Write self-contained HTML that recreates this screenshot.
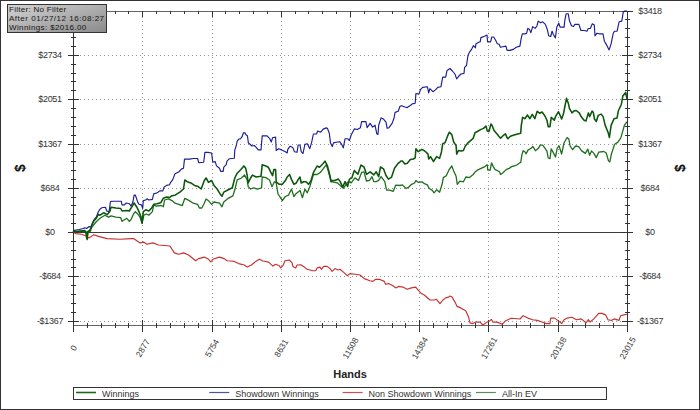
<!DOCTYPE html>
<html><head><meta charset="utf-8"><style>
html,body{margin:0;padding:0;background:#fff;}
body{width:700px;height:410px;overflow:hidden;position:relative;}
svg{position:absolute;left:0;top:0;display:block;}
text{font-family:"Liberation Sans",sans-serif;fill:#333;}
.yl{font-size:9px;letter-spacing:-0.3px;text-anchor:middle;}
.xl{font-size:8.5px;text-anchor:middle;}
.dl{font-size:14px;font-weight:bold;text-anchor:middle;fill:#111;}
.hl{font-size:11px;font-weight:bold;text-anchor:middle;fill:#222;}
.lg{font-size:9px;}
.fb{font-size:8px;letter-spacing:0.55px;fill:#151515;}
</style></head><body>
<svg width="700" height="410" viewBox="0 0 700 410">
<rect x="0" y="0" width="700" height="410" fill="#fff"/>
<rect x="0.5" y="0.5" width="699" height="409" fill="none" stroke="#333" stroke-width="1"/>
<path d="M76 55.5H627 M76 99.5H627 M76 144.5H627 M76 188.5H627 M76 276.5H627 M76 321.5H627" stroke="#959595" stroke-width="1" stroke-dasharray="1 3" fill="none"/>
<path d="M142.5 13V325 M212.5 13V325 M281.5 13V325 M350.5 13V325 M419.5 13V325 M488.5 13V325 M558.5 13V325" stroke="#959595" stroke-width="1" stroke-dasharray="1 3" fill="none"/>
<path d="M73 232.5H628" stroke="#3a3a3a" stroke-width="1"/>
<path d="M73 11.5H633 M73 325.5H628" stroke="#666" stroke-width="1.2" fill="none"/>
<path d="M73.5 11V331 M627.5 11V331 M68 11.5H79 M622 11.5H633 M71 19.5H76 M625 19.5H630 M71 28.5H76 M625 28.5H630 M71 37.5H76 M625 37.5H630 M71 46.5H76 M625 46.5H630 M68 55.5H79 M622 55.5H633 M71 64.5H76 M625 64.5H630 M71 73.5H76 M625 73.5H630 M71 81.5H76 M625 81.5H630 M71 90.5H76 M625 90.5H630 M68 99.5H79 M622 99.5H633 M71 108.5H76 M625 108.5H630 M71 117.5H76 M625 117.5H630 M71 126.5H76 M625 126.5H630 M71 135.5H76 M625 135.5H630 M68 144.5H79 M622 144.5H633 M71 152.5H76 M625 152.5H630 M71 161.5H76 M625 161.5H630 M71 170.5H76 M625 170.5H630 M71 179.5H76 M625 179.5H630 M68 188.5H79 M622 188.5H633 M71 197.5H76 M625 197.5H630 M71 205.5H76 M625 205.5H630 M71 214.5H76 M625 214.5H630 M71 223.5H76 M625 223.5H630 M68 232.5H79 M622 232.5H633 M71 241.5H76 M625 241.5H630 M71 250.5H76 M625 250.5H630 M71 259.5H76 M625 259.5H630 M71 267.5H76 M625 267.5H630 M68 276.5H79 M622 276.5H633 M71 285.5H76 M625 285.5H630 M71 294.5H76 M625 294.5H630 M71 303.5H76 M625 303.5H630 M71 312.5H76 M625 312.5H630 M68 321.5H79 M622 321.5H633 M73.5 320V332 M73.5 11V17 M87.5 323V328 M87.5 11V14 M101.5 323V328 M101.5 11V14 M115.5 323V328 M115.5 11V14 M128.5 323V328 M128.5 11V14 M142.5 320V332 M142.5 11V17 M156.5 323V328 M156.5 11V14 M170.5 323V328 M170.5 11V14 M184.5 323V328 M184.5 11V14 M198.5 323V328 M198.5 11V14 M212.5 320V332 M212.5 11V17 M225.5 323V328 M225.5 11V14 M239.5 323V328 M239.5 11V14 M253.5 323V328 M253.5 11V14 M267.5 323V328 M267.5 11V14 M281.5 320V332 M281.5 11V17 M295.5 323V328 M295.5 11V14 M308.5 323V328 M308.5 11V14 M322.5 323V328 M322.5 11V14 M336.5 323V328 M336.5 11V14 M350.5 320V332 M350.5 11V17 M364.5 323V328 M364.5 11V14 M378.5 323V328 M378.5 11V14 M392.5 323V328 M392.5 11V14 M405.5 323V328 M405.5 11V14 M419.5 320V332 M419.5 11V17 M433.5 323V328 M433.5 11V14 M447.5 323V328 M447.5 11V14 M461.5 323V328 M461.5 11V14 M475.5 323V328 M475.5 11V14 M488.5 320V332 M488.5 11V17 M502.5 323V328 M502.5 11V14 M516.5 323V328 M516.5 11V14 M530.5 323V328 M530.5 11V14 M544.5 323V328 M544.5 11V14 M558.5 320V332 M558.5 11V17 M572.5 323V328 M572.5 11V14 M585.5 323V328 M585.5 11V14 M599.5 323V328 M599.5 11V14 M613.5 323V328 M613.5 11V14 M627.5 320V332 M627.5 11V17" stroke="#333" stroke-width="1" fill="none"/>
<path d="M73.0 232.0 L75.7 233.6 L81.4 234.3 L85.7 235.7 L88.6 237.9 L91.4 236.4 L93.6 234.7 L98.6 236.4 L107.0 238.6 L120.0 239.3 L131.4 238.6 L133.6 238.6 L140.0 242.9 L143.6 242.1 L147.0 244.3 L152.9 242.9 L158.6 245.0 L170.0 246.0 L174.3 252.9 L178.6 254.3 L183.6 252.9 L188.6 255.0 L195.7 260.7 L198.6 258.6 L204.3 257.1 L208.6 259.3 L210.7 262.0 L212.9 259.3 L219.3 257.1 L224.3 258.6 L227.0 260.7 L230.0 261.0 L234.3 261.4 L238.6 263.6 L244.3 265.0 L247.1 267.1 L251.4 265.0 L255.7 261.4 L259.3 259.3 L262.9 261.0 L268.6 262.1 L272.9 266.1 L275.7 264.3 L279.3 265.7 L280.7 267.9 L282.9 265.7 L285.0 260.7 L289.3 260.0 L292.1 262.9 L292.9 266.4 L295.7 267.9 L297.1 265.0 L300.7 264.7 L304.3 267.1 L307.1 269.3 L312.9 270.7 L315.7 270.7 L317.1 267.9 L320.0 267.1 L321.4 269.3 L323.6 266.4 L327.1 266.4 L330.0 268.5 L332.1 271.4 L335.0 268.6 L337.9 270.0 L340.0 269.3 L344.3 272.9 L347.1 275.7 L350.0 273.6 L355.0 274.3 L360.0 275.0 L364.3 278.6 L370.0 280.7 L372.9 281.4 L375.7 279.3 L379.3 279.3 L384.3 281.4 L385.7 284.3 L388.6 283.6 L392.9 285.7 L395.7 287.9 L398.6 286.4 L402.9 287.1 L407.1 289.3 L411.4 287.9 L415.7 287.1 L418.6 290.7 L421.4 293.6 L424.3 295.0 L430.0 300.0 L434.3 300.0 L436.4 299.3 L440.0 303.6 L442.9 300.0 L445.7 297.9 L448.6 297.1 L450.0 296.0 L452.1 297.1 L455.0 302.1 L457.1 306.4 L460.7 307.9 L462.9 309.3 L465.7 310.7 L468.6 317.1 L470.0 322.9 L472.9 323.6 L475.7 322.1 L480.0 322.1 L482.9 325.0 L487.1 322.1 L490.0 320.7 L491.4 319.3 L492.9 322.1 L497.1 322.1 L502.1 324.3 L505.7 320.7 L511.4 318.3 L520.0 319.0 L523.1 315.7 L527.9 318.1 L532.6 319.7 L537.3 320.4 L542.0 322.0 L546.7 323.6 L549.9 323.6 L550.7 318.1 L554.6 318.1 L557.7 320.4 L561.7 323.6 L564.0 319.7 L567.2 318.1 L571.9 317.3 L576.6 319.7 L581.3 318.9 L586.0 322.8 L588.4 319.7 L590.0 322.0 L593.9 318.9 L598.6 313.4 L601.8 313.4 L605.7 314.9 L608.0 319.7 L611.2 320.4 L614.3 318.9 L619.0 320.4 L620.6 315.7 L623.8 314.9 L626.9 314.2" stroke="#c83030" stroke-width="1.15" fill="none" stroke-linejoin="round"/>
<path d="M73.0 232.0 L84.0 231.0 L86.6 234.0 L87.2 238.0 L88.0 232.0 L92.0 227.0 L96.0 222.0 L100.0 218.3 L104.9 215.2 L108.5 217.1 L111.0 215.9 L115.9 217.1 L120.7 217.7 L122.0 221.3 L126.8 218.3 L129.3 221.3 L131.1 219.5 L133.5 214.0 L135.4 211.6 L137.8 214.0 L140.2 217.7 L142.1 223.2 L143.9 215.2 L146.3 214.0 L148.8 215.2 L152.4 211.6 L153.7 204.9 L156.1 206.1 L161.0 205.5 L163.4 206.7 L164.6 200.0 L168.3 198.8 L172.0 200.6 L175.0 203.2 L178.7 204.4 L182.3 205.6 L184.8 198.3 L188.4 200.1 L193.3 203.2 L197.6 204.4 L199.4 208.0 L201.8 208.0 L204.3 203.2 L206.1 198.9 L208.5 200.7 L211.6 204.4 L214.0 202.0 L217.1 202.6 L219.5 203.2 L222.0 206.8 L223.8 202.0 L227.4 198.9 L230.5 197.1 L232.9 195.9 L234.8 189.8 L237.2 179.9 L241.5 178.0 L244.5 175.0 L247.0 179.3 L248.2 186.6 L250.6 189.0 L253.7 187.9 L257.3 189.1 L261.6 187.9 L262.2 177.0 L265.9 177.6 L269.5 180.0 L272.0 186.7 L274.4 181.8 L276.2 183.0 L278.0 194.0 L280.5 197.7 L282.3 200.7 L285.4 196.5 L288.4 195.2 L291.5 189.1 L293.9 196.5 L296.3 193.4 L300.0 190.4 L302.4 197.7 L304.9 189.1 L307.3 192.8 L309.8 186.7 L313.4 174.5 L317.1 174.5 L320.7 172.1 L324.4 167.2 L326.2 164.8 L328.0 170.0 L331.1 181.6 L337.2 182.8 L343.3 188.3 L348.2 181.6 L351.2 182.8 L354.9 177.9 L358.5 180.4 L361.6 172.4 L364.0 171.8 L366.5 181.0 L369.5 180.4 L372.0 176.7 L373.8 181.6 L376.2 181.6 L378.7 180.4 L381.1 176.7 L384.8 181.6 L386.6 190.1 L389.6 190.1 L393.3 191.3 L395.7 185.2 L400.0 185.5 L402.4 184.9 L406.1 188.5 L408.5 187.3 L411.6 184.3 L414.6 183.0 L415.9 180.6 L418.3 182.4 L422.0 181.8 L424.4 183.7 L427.4 184.9 L429.3 188.5 L432.3 190.4 L434.1 192.8 L436.6 189.8 L439.6 192.2 L442.1 184.3 L443.3 177.6 L446.3 175.7 L448.8 170.2 L451.8 166.0 L453.7 170.9 L456.1 176.3 L457.3 184.3 L459.8 181.2 L463.4 181.8 L465.9 177.0 L469.5 177.6 L473.2 174.5 L475.0 172.1 L477.4 170.2 L481.1 168.4 L484.8 166.6 L487.2 164.8 L487.8 170.2 L490.2 170.2 L491.5 162.9 L493.3 166.6 L495.1 169.6 L499.4 171.5 L500.6 174.5 L503.0 172.7 L506.1 169.6 L509.1 168.4 L511.6 166.6 L514.0 166.0 L517.1 164.8 L520.7 162.3 L522.0 154.4 L523.2 150.7 L525.0 152.0 L526.2 153.8 L528.0 150.1 L531.1 148.3 L532.9 146.5 L535.4 150.7 L538.4 148.3 L540.2 145.2 L542.7 145.2 L545.1 148.3 L547.0 151.3 L548.2 158.0 L550.0 158.7 L551.2 148.9 L553.7 153.4 L555.5 157.0 L557.3 147.9 L559.1 146.0 L561.6 154.0 L564.0 143.0 L567.1 137.5 L568.9 139.3 L570.1 146.0 L572.6 149.7 L575.6 146.0 L578.7 146.7 L581.7 150.9 L585.4 153.4 L587.8 149.1 L589.6 155.2 L591.5 150.9 L593.9 153.4 L596.3 157.6 L598.8 152.1 L603.7 151.5 L606.1 152.8 L608.5 160.7 L609.8 161.9 L611.6 153.4 L614.6 144.2 L617.7 142.4 L620.7 138.1 L623.2 129.6 L624.4 125.3 L627.0 121.7" stroke="#1f6f1f" stroke-width="1.3" fill="none" stroke-linejoin="round"/>
<path d="M73.0 232.0 L74.4 230.4 L79.3 229.5 L83.0 228.5 L84.8 227.7 L86.6 228.5 L89.1 226.5 L90.3 227.3 L91.5 225.5 L93.3 221.2 L94.6 218.8 L96.4 217.0 L98.2 212.0 L100.0 209.1 L101.8 207.7 L105.5 207.3 L106.7 211.0 L109.1 211.6 L110.4 201.8 L111.6 201.2 L121.3 201.2 L122.0 204.9 L124.4 204.9 L126.2 203.0 L129.3 203.7 L131.1 206.1 L132.9 201.8 L134.1 195.1 L135.4 195.1 L136.6 198.8 L137.8 202.4 L139.0 204.3 L141.5 204.9 L142.7 208.5 L143.3 200.6 L145.7 200.0 L147.0 198.8 L148.8 200.0 L152.4 199.4 L153.7 193.9 L157.3 192.7 L159.8 190.9 L162.8 190.9 L164.0 187.2 L166.5 185.4 L169.5 184.8 L170.7 182.3 L172.6 179.9 L175.0 173.8 L178.7 172.0 L181.7 168.9 L183.5 168.3 L184.5 159.1 L189.6 159.1 L193.3 158.5 L197.6 158.5 L198.8 162.8 L203.7 162.2 L204.9 152.4 L207.9 152.4 L211.6 153.0 L212.8 162.2 L215.2 161.6 L216.5 165.9 L219.5 168.3 L220.7 171.3 L223.2 171.3 L223.8 167.1 L226.2 164.6 L227.0 161.1 L229.4 158.7 L234.3 158.2 L234.8 149.9 L236.2 146.0 L237.2 141.1 L238.7 139.1 L240.6 138.7 L242.1 136.7 L243.5 132.8 L245.0 132.8 L246.0 134.8 L247.4 135.7 L248.4 143.0 L250.4 144.5 L251.8 146.0 L254.3 145.5 L256.2 147.4 L258.2 149.9 L261.0 149.9 L262.2 135.9 L267.1 135.9 L269.5 138.3 L271.3 142.0 L272.6 137.7 L275.6 137.1 L276.2 150.5 L278.7 148.7 L281.7 149.9 L285.4 151.7 L287.2 152.9 L287.8 149.3 L290.2 146.2 L292.7 147.4 L294.5 151.7 L297.0 152.3 L298.2 145.0 L300.0 145.0 L301.2 151.7 L303.0 153.5 L304.9 144.4 L307.3 143.8 L309.8 148.7 L311.6 142.6 L313.4 134.0 L316.5 134.0 L317.7 131.0 L320.7 132.2 L323.2 129.1 L326.2 127.9 L327.4 128.3 L329.3 133.2 L330.5 142.9 L332.3 146.6 L333.5 142.9 L336.0 142.3 L339.6 141.7 L341.5 144.1 L343.3 147.8 L345.1 138.7 L347.6 138.7 L349.4 140.5 L351.2 135.0 L354.3 128.9 L357.3 129.5 L360.4 127.7 L361.6 121.6 L365.9 121.6 L367.1 127.7 L370.1 123.4 L372.6 127.1 L375.0 125.2 L376.8 133.8 L378.0 134.4 L378.7 125.2 L381.1 117.9 L383.5 119.1 L386.0 122.2 L387.2 128.3 L389.0 127.7 L392.1 123.4 L393.9 118.5 L395.1 112.4 L398.2 111.2 L400.0 106.3 L401.8 105.7 L404.9 107.0 L407.3 107.6 L411.0 105.1 L412.2 103.9 L415.2 103.3 L415.9 93.5 L418.9 94.1 L420.7 89.3 L422.6 87.4 L427.4 86.8 L428.7 92.9 L429.9 88.7 L432.9 91.7 L435.4 89.9 L437.8 87.4 L440.9 86.8 L442.7 77.1 L445.7 77.1 L447.0 70.4 L450.0 68.5 L452.4 71.0 L454.9 74.0 L456.7 78.9 L458.5 76.5 L461.0 74.0 L464.0 73.4 L464.6 67.3 L466.5 65.5 L468.0 55.2 L469.9 51.6 L471.7 49.1 L473.5 45.5 L475.4 47.9 L476.0 43.7 L478.4 42.4 L480.2 41.8 L480.9 37.6 L484.5 36.3 L487.0 35.1 L487.6 41.8 L490.6 41.8 L491.8 37.0 L493.7 37.0 L495.5 40.0 L497.3 43.7 L499.1 44.3 L500.4 47.3 L502.8 46.7 L505.9 46.1 L507.1 50.4 L510.1 50.4 L513.8 49.1 L516.2 47.3 L519.9 46.1 L521.1 38.8 L522.3 33.9 L524.8 33.9 L526.6 33.3 L527.8 28.4 L529.6 29.6 L530.9 32.7 L532.7 26.6 L535.1 28.4 L536.9 26.0 L538.2 21.1 L540.6 22.8 L542.7 21.8 L545.4 24.4 L547.4 29.8 L548.7 35.8 L550.7 36.5 L552.1 31.2 L553.4 34.5 L555.4 37.9 L556.8 27.1 L558.8 23.1 L560.1 27.1 L564.1 27.1 L564.8 20.4 L566.2 13.7 L568.2 13.7 L569.5 21.1 L571.5 25.8 L573.5 26.5 L574.9 24.4 L578.9 24.4 L580.9 30.5 L584.3 30.5 L586.9 31.2 L588.3 28.5 L590.3 28.5 L592.3 23.8 L594.3 25.1 L595.0 35.8 L597.0 33.2 L599.0 33.8 L603.0 33.8 L604.4 41.2 L606.4 44.6 L609.1 49.9 L611.1 43.9 L613.1 33.8 L614.4 31.2 L617.1 31.2 L619.1 21.8 L621.8 21.1 L623.2 12.4 L624.5 11.0 L627.0 11.0" stroke="#1c1c98" stroke-width="1.15" fill="none" stroke-linejoin="round"/>
<path d="M73.0 232.0 L84.2 230.4 L86.0 231.6 L86.6 237.7 L87.2 239.5 L87.8 231.6 L90.3 231.0 L92.1 224.3 L94.0 220.6 L96.4 218.2 L98.2 214.5 L100.0 215.2 L103.7 212.8 L107.3 214.6 L109.8 211.6 L111.0 207.3 L115.9 208.0 L120.7 208.5 L122.0 211.0 L126.8 210.4 L129.3 211.0 L132.3 206.1 L134.1 203.0 L136.6 206.7 L139.0 211.6 L140.9 216.5 L142.1 223.2 L143.3 211.6 L145.7 209.8 L148.8 211.0 L151.8 207.9 L153.7 204.3 L157.3 203.7 L161.0 202.4 L163.4 198.2 L166.5 197.0 L169.5 197.6 L172.0 195.7 L175.0 195.2 L179.9 192.1 L183.5 189.0 L184.8 180.0 L187.2 181.7 L190.9 182.9 L194.5 185.4 L198.2 186.6 L201.2 189.0 L204.3 180.5 L206.1 178.0 L208.5 182.3 L211.6 180.5 L214.0 185.4 L217.1 189.0 L220.1 193.9 L222.0 196.3 L223.8 192.1 L227.4 190.2 L232.3 187.8 L234.8 178.0 L237.2 173.2 L240.9 169.5 L243.9 165.9 L245.7 168.3 L247.0 174.4 L248.2 182.9 L250.6 178.0 L252.4 175.1 L256.1 177.0 L261.0 176.3 L262.2 164.8 L265.9 166.0 L268.3 167.2 L270.7 172.1 L272.6 175.7 L273.8 169.6 L275.6 169.6 L276.2 181.8 L279.3 184.3 L282.3 184.3 L285.4 180.6 L287.2 177.0 L289.6 174.5 L291.5 179.4 L293.9 184.3 L296.3 183.0 L298.2 179.4 L300.0 177.0 L301.2 183.0 L303.7 181.8 L306.1 181.8 L308.5 184.3 L311.0 180.6 L313.4 172.7 L317.1 166.0 L319.5 167.2 L323.2 163.5 L325.0 161.1 L327.4 165.7 L329.9 175.5 L331.1 181.6 L332.3 180.4 L334.8 180.4 L338.4 179.1 L340.2 181.6 L342.7 187.1 L345.1 181.6 L347.6 186.5 L349.4 179.1 L351.8 177.9 L354.3 170.6 L357.9 174.3 L361.0 165.1 L364.0 167.0 L366.5 174.3 L370.1 171.8 L373.8 174.9 L376.2 171.8 L378.7 176.7 L380.5 167.0 L383.5 168.8 L386.0 175.5 L388.4 179.1 L391.5 177.3 L394.5 168.2 L398.2 163.3 L401.2 160.9 L402.4 160.9 L404.9 163.9 L407.3 163.3 L410.4 159.6 L413.4 159.0 L415.2 157.8 L415.9 148.7 L418.3 151.7 L422.0 149.3 L425.6 151.7 L428.0 154.1 L428.7 159.0 L430.5 156.6 L433.5 161.5 L436.6 156.6 L439.6 158.4 L441.5 151.7 L442.7 143.8 L445.1 142.6 L447.6 135.9 L449.4 132.2 L451.8 134.6 L453.7 142.0 L456.1 145.6 L456.7 154.1 L458.5 150.5 L461.0 151.1 L463.4 150.5 L465.2 146.2 L468.3 142.6 L473.2 138.3 L475.0 132.7 L477.4 131.5 L480.5 129.6 L483.5 128.4 L486.0 126.0 L487.2 130.9 L489.0 131.5 L490.9 124.1 L492.1 125.4 L493.9 130.2 L497.0 133.9 L498.8 136.3 L500.6 138.2 L503.0 135.7 L505.5 133.9 L506.7 137.0 L507.9 138.8 L510.4 136.3 L514.0 135.1 L517.7 133.9 L520.7 133.3 L521.3 125.4 L522.6 117.4 L525.0 118.7 L527.4 115.0 L529.9 118.7 L532.3 114.4 L534.8 118.7 L537.2 111.3 L539.6 113.2 L542.1 112.0 L545.1 116.2 L547.0 120.5 L548.2 126.6 L550.0 126.6 L551.2 117.4 L554.3 120.2 L555.5 116.6 L558.5 111.7 L560.4 116.0 L561.6 119.0 L563.4 114.1 L564.6 108.0 L566.5 98.3 L568.3 103.2 L569.5 108.7 L572.0 112.9 L573.8 111.1 L576.2 110.5 L579.3 112.9 L581.1 116.6 L584.1 120.2 L586.0 120.9 L588.4 112.9 L589.6 116.6 L592.1 111.1 L593.3 112.3 L594.5 119.0 L596.3 121.5 L598.2 115.4 L601.2 114.1 L603.1 116.6 L605.2 125.4 L608.2 132.7 L609.4 137.5 L611.1 125.4 L614.0 118.8 L617.0 118.1 L618.4 110.7 L621.4 104.2 L622.8 96.1 L625.7 92.4 L627.0 99.0" stroke="#0a560a" stroke-width="1.55" fill="none" stroke-linejoin="round"/>
<text x="50" y="14" class="yl">$3418</text>
<text x="650" y="14" class="yl">$3418</text>
<text x="50" y="58" class="yl">$2734</text>
<text x="650" y="58" class="yl">$2734</text>
<text x="50" y="102" class="yl">$2051</text>
<text x="650" y="102" class="yl">$2051</text>
<text x="50" y="147" class="yl">$1367</text>
<text x="650" y="147" class="yl">$1367</text>
<text x="50" y="191" class="yl">$684</text>
<text x="650" y="191" class="yl">$684</text>
<text x="50" y="235" class="yl">$0</text>
<text x="650" y="235" class="yl">$0</text>
<text x="50" y="279" class="yl">-$684</text>
<text x="650" y="279" class="yl">-$684</text>
<text x="50" y="324" class="yl">-$1367</text>
<text x="650" y="324" class="yl">-$1367</text>
<text class="xl" transform="translate(73.5 348) rotate(-60)" x="0" y="3">0</text>
<text class="xl" transform="translate(142.75 348) rotate(-60)" x="0" y="3">2877</text>
<text class="xl" transform="translate(212.0 348) rotate(-60)" x="0" y="3">5754</text>
<text class="xl" transform="translate(281.25 348) rotate(-60)" x="0" y="3">8631</text>
<text class="xl" transform="translate(350.5 348) rotate(-60)" x="0" y="3">11508</text>
<text class="xl" transform="translate(419.75 348) rotate(-60)" x="0" y="3">14384</text>
<text class="xl" transform="translate(489.0 348) rotate(-60)" x="0" y="3">17261</text>
<text class="xl" transform="translate(558.25 348) rotate(-60)" x="0" y="3">20138</text>
<text class="xl" transform="translate(627.5 348) rotate(-60)" x="0" y="3">23015</text>
<text class="dl" transform="translate(20 168) rotate(-90)" x="0" y="4.5">$</text>
<text class="dl" transform="translate(680 168) rotate(-90)" x="0" y="4.5">$</text>
<text x="350" y="378" class="hl">Hands</text>
<rect x="73.5" y="387.5" width="533" height="12" fill="#fff" stroke="#333" stroke-width="1"/>
<path d="M76.0 392.5h20" stroke="#1a6a1a" stroke-width="1.6"/>
<text x="102.0" y="396.5" class="lg">Winnings</text>
<path d="M209.3 392.5h20" stroke="#5050a8" stroke-width="1.2"/>
<text x="235.3" y="396.5" class="lg">Showdown Winnings</text>
<path d="M342.6 392.5h20" stroke="#d05050" stroke-width="1.2"/>
<text x="368.6" y="396.5" class="lg">Non Showdown Winnings</text>
<path d="M475.9 392.5h20" stroke="#5a8f5a" stroke-width="1.2"/>
<text x="501.9" y="396.5" class="lg">All-In EV</text>
<defs><linearGradient id="gb" x1="0" y1="0" x2="1" y2="1"><stop offset="0" stop-color="#d4d4d4"/><stop offset="1" stop-color="#8a8a8a"/></linearGradient></defs>
<rect x="7.5" y="4.5" width="99" height="28" fill="url(#gb)" stroke="#333" stroke-width="1"/>
<text x="9" y="11.8" class="fb" style="letter-spacing:0.29px">Filter: No Filter</text>
<text x="9" y="20.8" class="fb" style="letter-spacing:0.52px">After 01/27/12 16:08:27</text>
<text x="9" y="29.6" class="fb" style="letter-spacing:0.38px">Winnings: $2016.00</text>
</svg>
</body></html>
